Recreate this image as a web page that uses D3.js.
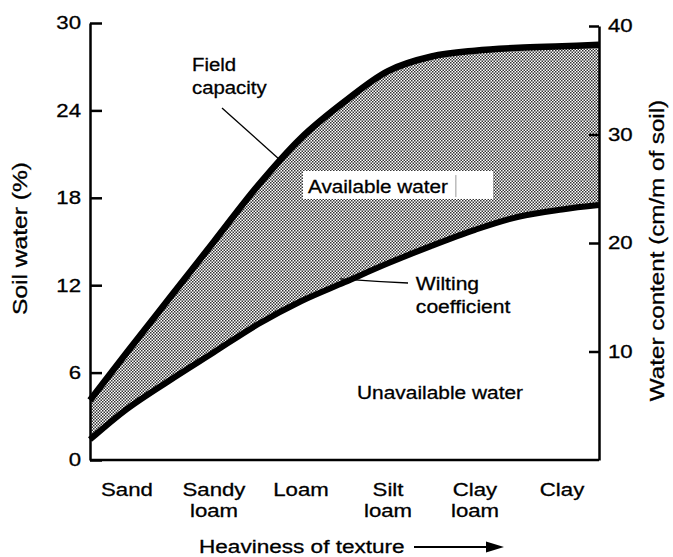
<!DOCTYPE html>
<html>
<head>
<meta charset="utf-8">
<script src="https://cdn.jsdelivr.net/npm/d3@7"></script>
<style>
body { margin: 0; background: #fff; }
text { font-family: "Liberation Sans", Arial, Helvetica, sans-serif; fill: #000; stroke: #000; stroke-width: 0.3px; }
</style>
</head>
<body>
<div id="chart"></div>
<script>
// soil texture classes, light -> heavy (one entry per label line)
const textures = [["Sand"], ["Sandy", "loam"], ["Loam"], ["Silt", "loam"], ["Clay", "loam"], ["Clay"]];

// position along the texture axis (0 = Sand ... 5 = Clay)
const texturePos    = [-0.425, 0, 0.5, 1, 1.5, 2, 2.5, 3, 3.5, 4, 4.5, 5, 5.425];
// soil water (%) at field capacity and at the wilting coefficient
const fieldCapacity = [4.1, 7.4, 11.2, 15.0, 18.8, 22.1, 24.6, 26.7, 27.7, 28.1, 28.3, 28.4, 28.5];
const wiltingCoef   = [1.4, 3.5, 5.5, 7.4, 9.3, 10.9, 12.2, 13.5, 14.7, 15.8, 16.7, 17.2, 17.5];

const leftTicks  = [0, 6, 12, 18, 24, 30];
const rightTicks = [10, 20, 30, 40];

const width = 673, height = 557;
const margin = {top: 23, right: 74, bottom: 97, left: 90};
const innerW = width - margin.left - margin.right;
const innerH = height - margin.top - margin.bottom;
const fontSize = 18.5;

const svg = d3.select("#chart").append("svg")
	.attr("width", width)
	.attr("height", height);

// stipple fill for the available water band
const pat = svg.append("defs").append("pattern")
	.attr("id", "stipple")
	.attr("patternUnits", "userSpaceOnUse")
	.attr("width", 3).attr("height", 3);
pat.append("rect").attr("width", 3).attr("height", 3).attr("fill", "#fff");
pat.append("rect").attr("width", 1.5).attr("height", 1.5).attr("fill", "#333");
pat.append("rect").attr("x", 1.5).attr("y", 1.5).attr("width", 1.5).attr("height", 1.5).attr("fill", "#333");

const g = svg.append("g")
	.attr("transform", "translate(" + margin.left + "," + margin.top + ")");

const x = d3.scaleLinear().domain([-0.425, 5.425]).range([0, innerW]);
const yL = d3.scaleLinear().domain([0, 30]).range([innerH, 0]);
const yR = d3.scaleLinear().domain([0, 40]).range([innerH, 3]);

const pts = texturePos.map((p, i) => ({p: p, fc: fieldCapacity[i], wc: wiltingCoef[i]}));
const curve = d3.curveCatmullRom.alpha(0.5);

// wide text helper: the original lettering is broader than Arial
function wideText(parent, px, py, k, str, size) {
	return parent.append("text")
		.attr("transform", "translate(" + px + "," + py + ") scale(" + k + ",1)")
		.style("font-size", (size || fontSize) + "px")
		.text(str);
}

// band
g.append("path")
	.datum(pts)
	.attr("fill", "url(#stipple)")
	.attr("d", d3.area()
		.x(d => x(d.p))
		.y0(d => yL(d.wc))
		.y1(d => yL(d.fc))
		.curve(curve));

// the two curves
[["fc", 6.5], ["wc", 6]].forEach(([key, w]) => {
	g.append("path")
		.datum(pts)
		.attr("fill", "none")
		.attr("stroke", "#000")
		.attr("stroke-width", w)
		.attr("d", d3.line()
			.x(d => x(d.p))
			.y(d => yL(d[key]))
			.curve(curve));
});

// left axis, ticks pointing in
const axL = g.append("g")
	.call(d3.axisLeft(yL).tickValues(leftTicks).tickSizeInner(-12).tickSizeOuter(0).tickPadding(9));
axL.selectAll("text")
	.attr("x", -9 / 1.2)
	.attr("transform", "scale(1.2,1)")
	.style("font-size", fontSize + "px");

// right axis, ticks pointing in
const axR = g.append("g")
	.attr("transform", "translate(" + innerW + ",0)")
	.call(d3.axisRight(yR).tickValues(rightTicks).tickSizeInner(-10).tickSizeOuter(0).tickPadding(9));
axR.selectAll("text")
	.attr("x", 9 / 1.2)
	.attr("transform", "scale(1.2,1)")
	.style("font-size", fontSize + "px");

[axL, axR].forEach(a => {
	a.select(".domain").attr("stroke-width", 2.5);
	a.selectAll(".tick line").attr("stroke-width", 2.5);
	a.selectAll("text").attr("font-family", null);
});

// bottom line
g.append("line")
	.attr("x1", 0).attr("x2", innerW)
	.attr("y1", innerH).attr("y2", innerH)
	.attr("stroke", "#000").attr("stroke-width", 2.5);

// category labels
textures.forEach((lines, i) => {
	const t = g.append("text")
		.attr("transform", "translate(" + x(i) + "," + (innerH + 36) + ") scale(1.2,1)")
		.attr("text-anchor", "middle")
		.style("font-size", fontSize + "px");
	lines.forEach((s, j) => {
		t.append("tspan").attr("x", 0).attr("dy", j ? 21 : 0).text(s);
	});
});

// x title + arrow
wideText(svg, 199, 553, 1.22, "Heaviness of texture");
svg.append("line")
	.attr("x1", 414).attr("x2", 490).attr("y1", 547).attr("y2", 547)
	.attr("stroke", "#000").attr("stroke-width", 2);
svg.append("path")
	.attr("d", "M486,541.5L504,547L486,552.5Z")
	.attr("fill", "#000");

// y titles
svg.append("text")
	.attr("transform", "translate(27,238.5) rotate(-90) scale(1.26,1)")
	.attr("text-anchor", "middle")
	.style("font-size", "19.5px")
	.text("Soil water (%)");
svg.append("text")
	.attr("transform", "translate(664,250.5) rotate(-90) scale(1.24,1)")
	.attr("text-anchor", "middle")
	.style("font-size", "19.5px")
	.text("Water content (cm/m of soil)");

// annotations
const fcLab = g.append("text")
	.attr("transform", "translate(" + x(0.747) + "," + yL(26.7) + ") scale(1.1,1)")
	.style("font-size", fontSize + "px");
fcLab.append("tspan").attr("x", 0).text("Field");
fcLab.append("tspan").attr("x", 0).attr("dy", 23).text("capacity");
g.append("line")
	.attr("x1", x(1.092)).attr("y1", yL(24.16))
	.attr("x2", x(1.759)).attr("y2", yL(20.6))
	.attr("stroke", "#000").attr("stroke-width", 1.3);

g.append("rect")
	.attr("x", x(2.023)).attr("y", yL(19.84))
	.attr("width", x(4.207) - x(2.023))
	.attr("height", yL(17.92) - yL(19.84))
	.attr("fill", "#fff");
wideText(g, x(2.08), yL(18.33), 1.12, "Available water");
g.append("line")
	.attr("x1", x(3.78)).attr("x2", x(3.78))
	.attr("y1", yL(19.56)).attr("y2", yL(18.05))
	.attr("stroke", "#999").attr("stroke-width", 1);

const wcLab = g.append("text")
	.attr("transform", "translate(" + x(3.32) + "," + yL(11.67) + ") scale(1.14,1)")
	.style("font-size", fontSize + "px");
wcLab.append("tspan").attr("x", 0).text("Wilting");
wcLab.append("tspan").attr("x", 0).attr("dy", 23).text("coefficient");
g.append("path")
	.attr("d", "M" + x(2.448) + "," + yL(12.43) + "Q" + x(2.85) + "," + yL(12.25) + " " + x(3.23) + "," + yL(12.15))
	.attr("fill", "none")
	.attr("stroke", "#000").attr("stroke-width", 1.3);

wideText(g, x(2.644), yL(4.19), 1.13, "Unavailable water");
</script>
</body>
</html>
